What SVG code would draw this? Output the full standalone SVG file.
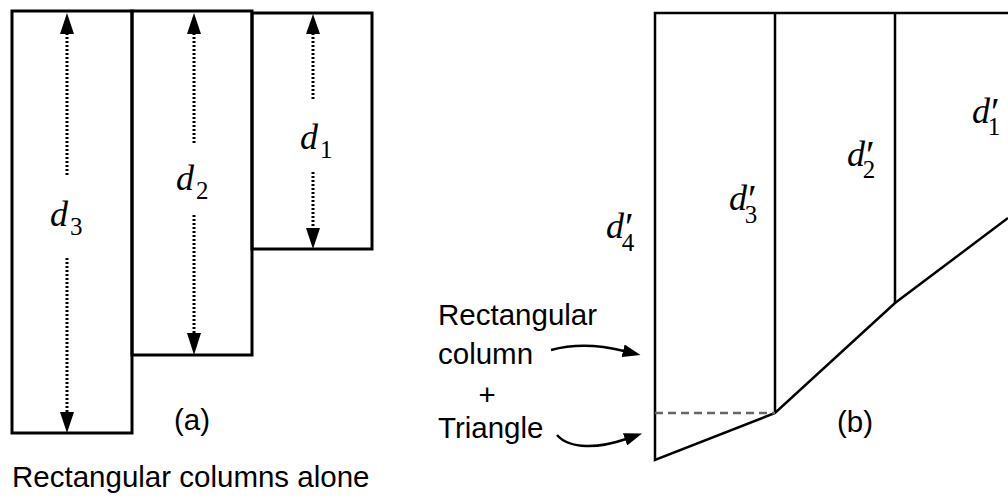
<svg xmlns="http://www.w3.org/2000/svg" width="1008" height="499" viewBox="0 0 1008 499">
<style>
.col{fill:none;stroke:#000;stroke-width:3}
.ln{fill:none;stroke:#000;stroke-width:2.5;stroke-linejoin:miter}
.dot{fill:none;stroke:#000;stroke-width:3;stroke-dasharray:2 2}
.dash{fill:none;stroke:#666;stroke-width:2.5;stroke-dasharray:8 5}
.head{fill:#000}
.var{font-family:"Liberation Serif","Times New Roman",serif;font-style:italic;font-size:36px;fill:#000}
.sub{font-style:normal;font-size:25px}
.pr{font-style:normal;font-size:40px}
.lbl{font-family:"Liberation Sans",Arial,sans-serif;font-size:29.5px;fill:#000}
.curve{fill:none;stroke:#000;stroke-width:2.5}
</style>
<defs>
<marker id="ah" markerWidth="18" markerHeight="13" refX="1" refY="6.5" orient="auto" markerUnits="userSpaceOnUse">
<path d="M0,0 L18,6.5 L0,13 z" fill="#000"/>
</marker>
</defs>

<!-- Panel (a) -->
<g id="col-a3">
<rect class="col" x="12" y="11" width="120" height="422"/>
<text class="var" x="50" y="226">d<tspan class="sub" dx="2" dy="9">3</tspan></text>
</g>
<g id="col-a2">
<rect class="col" x="132" y="11" width="120" height="344"/>
<text class="var" x="176" y="190">d<tspan class="sub" dx="2" dy="9">2</tspan></text>
</g>
<g id="col-a1">
<rect class="col" x="252" y="13" width="120" height="236"/>
<text class="var" x="300" y="149">d<tspan class="sub" dx="2" dy="9">1</tspan></text>
</g>

<g id="connectors">
<!-- d3 -->
<line class="dot" x1="67" y1="33" x2="67" y2="175"/>
<line class="dot" x1="67" y1="258" x2="67" y2="413"/>
<polygon class="head" points="67,13 60,34 74,34"/>
<polygon class="head" points="67,433 60,412 74,412"/>
<!-- d2 -->
<line class="dot" x1="194" y1="33" x2="194" y2="145"/>
<line class="dot" x1="194" y1="215" x2="194" y2="334"/>
<polygon class="head" points="194,13 187,34 201,34"/>
<polygon class="head" points="194,355 187,333 201,333"/>
<!-- d1 -->
<line class="dot" x1="313" y1="33" x2="313" y2="100"/>
<line class="dot" x1="313" y1="172" x2="313" y2="229"/>
<polygon class="head" points="313,14 306,34 320,34"/>
<polygon class="head" points="313,249 306,228 320,228"/>
<!-- curved label arrows -->
<path class="curve" d="M551,350 C573,344 600,345 624,351" marker-end="url(#ah)"/>
<path class="curve" d="M557,435 C570,450 600,448 626,439" marker-end="url(#ah)"/>
</g>

<text class="lbl" x="192" y="430" text-anchor="middle">(a)</text>
<text class="lbl" x="12" y="487">Rectangular columns alone</text>

<!-- Panel (b) -->
<g id="shape-b">
<path class="ln" d="M1008,13 L655,13 L655,460 L775,413 L895,303 L1008,218"/>
<line class="ln" x1="775" y1="13" x2="775" y2="413"/>
<line class="ln" x1="895" y1="13" x2="895" y2="303"/>
<line class="dash" x1="655" y1="413" x2="775" y2="413"/>
</g>
<g id="lbl-d4">
<text class="var" x="606" y="238">d<tspan class="pr" dx="1" dy="2">′</tspan><tspan class="sub" dx="-12" dy="11">4</tspan></text>
</g>
<g id="lbl-d3">
<text class="var" x="729" y="210">d<tspan class="pr" dx="1" dy="2">′</tspan><tspan class="sub" dx="-12" dy="11">3</tspan></text>
</g>
<g id="lbl-d2">
<text class="var" x="847" y="166">d<tspan class="pr" dx="1" dy="2">′</tspan><tspan class="sub" dx="-12" dy="10">2</tspan></text>
</g>
<g id="lbl-d1">
<text class="var" x="972" y="123">d<tspan class="pr" dx="1" dy="2">′</tspan><tspan class="sub" dx="-12" dy="10">1</tspan></text>
</g>

<g id="note">
<text class="lbl" x="438" y="325">Rectangular</text>
<text class="lbl" x="438" y="364">column</text>
<text class="lbl" x="487" y="405" text-anchor="middle">+</text>
<text class="lbl" x="438" y="438">Triangle</text>
</g>
<text class="lbl" x="855" y="432" text-anchor="middle">(b)</text>
</svg>
